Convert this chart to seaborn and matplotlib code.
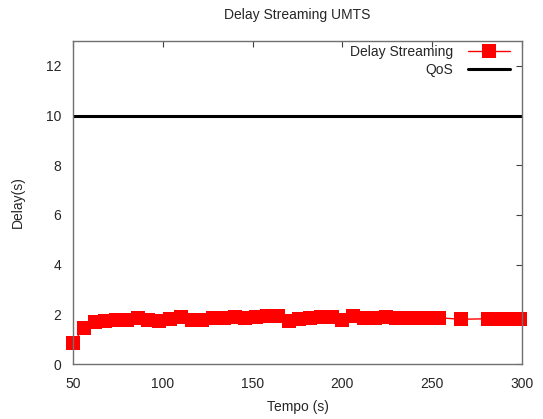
import matplotlib
matplotlib.use("Agg")
import matplotlib.pyplot as plt
import seaborn as sns
import pandas as pd

# Delay streaming samples (time in s, delay in s)
tempo = [50, 56, 62, 68, 74, 80, 86, 92, 98, 104, 110, 116, 122, 128, 134,
         140, 146, 152, 158, 164, 170, 176, 182, 188, 194, 200, 206, 212,
         218, 224, 230, 236, 242, 248, 254, 266, 281, 287, 293, 299]
delay = [0.85, 1.45, 1.68, 1.75, 1.78, 1.78, 1.85, 1.78, 1.72, 1.8, 1.88,
         1.78, 1.76, 1.84, 1.86, 1.88, 1.84, 1.88, 1.92, 1.92, 1.75, 1.8,
         1.84, 1.88, 1.88, 1.78, 1.92, 1.84, 1.84, 1.88, 1.86, 1.84, 1.84,
         1.84, 1.86, 1.8, 1.82, 1.82, 1.82, 1.82]
qos_x = [50, 300]
qos_y = [10, 10]

df = pd.DataFrame({"tempo": tempo, "delay": delay})
qos = pd.DataFrame({"tempo": qos_x, "delay": qos_y})

sns.set_style("white")
plt.rcParams["font.family"] = ["Liberation Sans", "DejaVu Sans"]
TXT = "#262626"

fig = plt.figure(figsize=(5.43, 4.19), dpi=100)
ax = fig.add_axes([73 / 543, 1 - 364 / 419, 449 / 543, 323 / 419])

sns.lineplot(data=df, x="tempo", y="delay", ax=ax, color="#ff0000",
             marker="s", markersize=10, markeredgewidth=0, linewidth=1,
             label="Delay Streaming", clip_on=False)
sns.lineplot(data=qos, x="tempo", y="delay", ax=ax, color="black",
             linewidth=2.2, label="QoS")

ax.set_xlim(50, 300)
ax.set_ylim(0, 13)
ax.set_xticks([50, 100, 150, 200, 250, 300])
ax.set_yticks([0, 2, 4, 6, 8, 10, 12])
ax.tick_params(direction="in", length=4, width=0.8, top=True, right=True,
               labelsize=10, labelcolor=TXT, color="#404040")
ax.tick_params(axis="x", pad=9)
ax.tick_params(axis="y", pad=8.5)
for s in ax.spines.values():
    s.set_color("#707070")
    s.set_linewidth(1)

ax.set_xlabel("Tempo (s)", fontsize=10, color=TXT)
ax.set_ylabel("Delay(s)", fontsize=10, color=TXT)
ax.xaxis.set_label_coords(0.5, (364 - 400) / 323)
ax.yaxis.set_label_coords((25 - 73) / 449, 0.5)
ax.set_title("Delay Streaming UMTS", fontsize=10, color=TXT,
             y=(364 - 15) / 323, va="center", pad=0)
leg = ax.legend(loc="upper right", frameon=False, markerfirst=False,
                fontsize=10, handlelength=3, handletextpad=1.1,
                borderpad=0, borderaxespad=0, labelspacing=0.3,
                bbox_to_anchor=((510 - 73) / 449, (364 - 45) / 323))
for t in leg.get_texts():
    t.set_color(TXT)

plt.savefig("out.png", dpi=100)
